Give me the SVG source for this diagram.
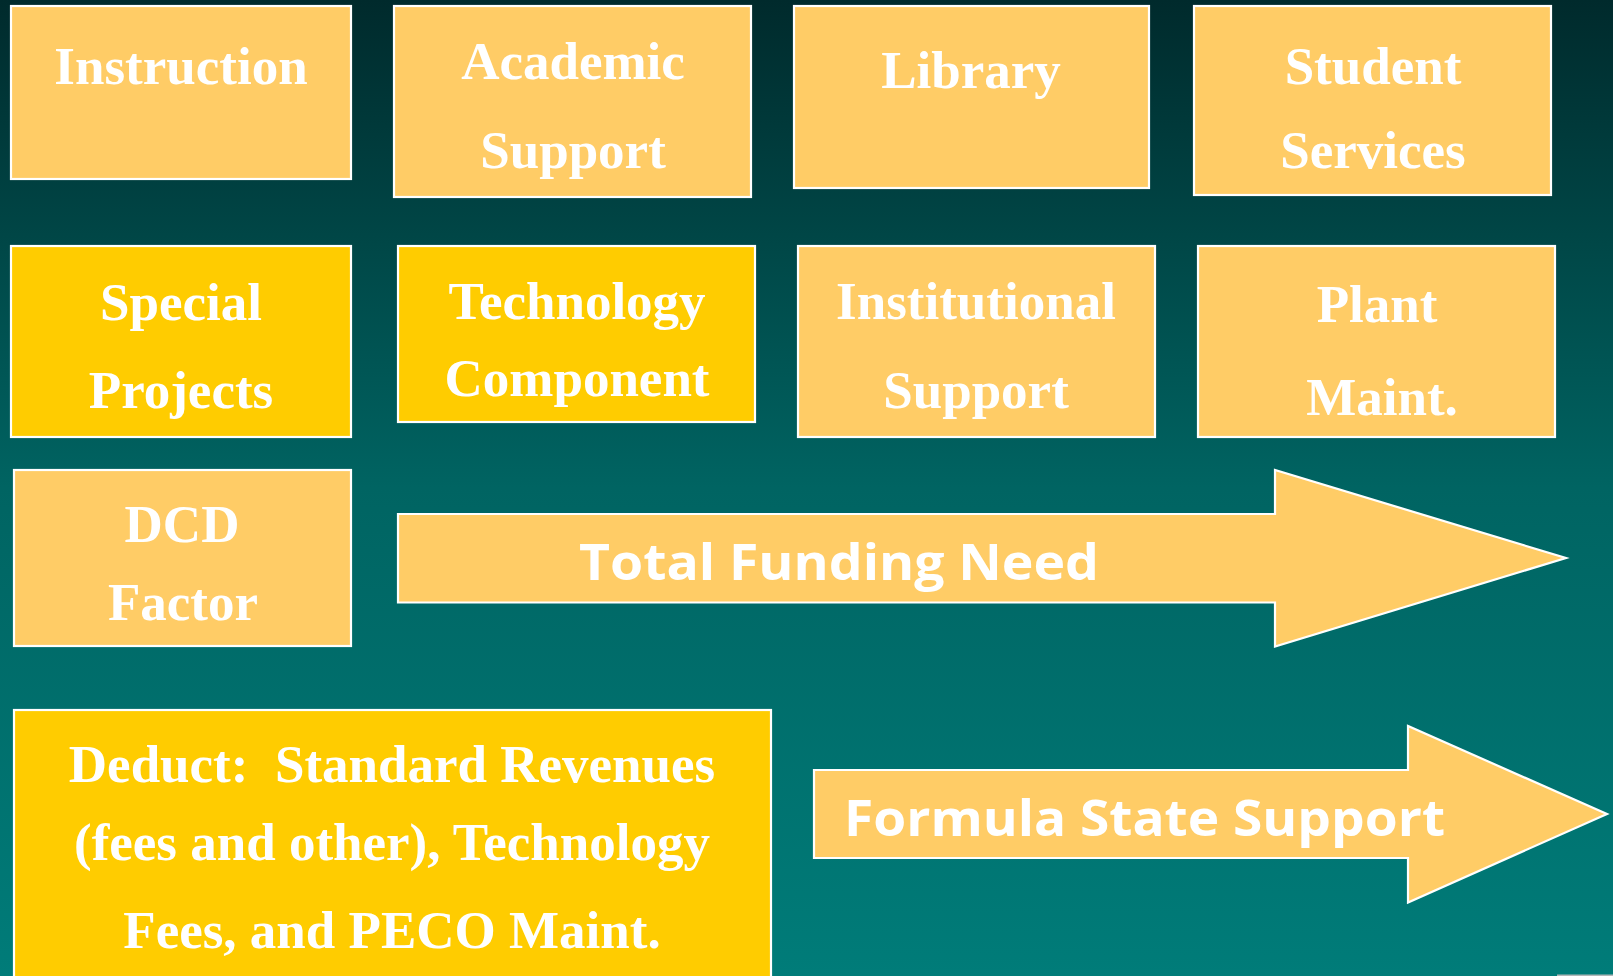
<svg xmlns="http://www.w3.org/2000/svg" width="1613" height="976" viewBox="0 0 1613 976">
<defs>
<linearGradient id="bg" x1="0" y1="0" x2="0" y2="1">
<stop offset="0" stop-color="#002a2c"/>
<stop offset="0.5" stop-color="#006462"/>
<stop offset="1" stop-color="#007c79"/>
</linearGradient>
<style>
.lt{fill:#ffcc66;stroke:#ffffff;stroke-width:2.2}
.gd{fill:#ffcc00;stroke:#ffffff;stroke-width:2.2}
.t{font-family:"Liberation Serif","Times New Roman",serif;font-weight:bold;font-size:53px;fill:#ffffff;text-anchor:middle;white-space:pre}
.a{font-family:"Open Sans","Liberation Sans",sans-serif;font-weight:bold;font-size:50px;fill:#ffffff}
</style>
</defs>
<rect x="0" y="0" width="1613" height="976" fill="url(#bg)"/>

<g id="instruction">
<rect class="lt" x="11" y="6" width="340" height="173"/>
<text class="t" x="181" y="84">Instruction</text>
</g>
<g id="academic-support">
<rect class="lt" x="394" y="6" width="357" height="191"/>
<text class="t" x="573" y="79">Academic</text>
<text class="t" x="573" y="168">Support</text>
</g>
<g id="library">
<rect class="lt" x="794" y="6" width="355" height="182"/>
<text class="t" x="971" y="88">Library</text>
</g>
<g id="student-services">
<rect class="lt" x="1194" y="6" width="357" height="189"/>
<text class="t" x="1373" y="84">Student</text>
<text class="t" x="1373" y="168">Services</text>
</g>

<g id="special-projects">
<rect class="gd" x="11" y="246" width="340" height="191"/>
<text class="t" x="181" y="320">Special</text>
<text class="t" x="181" y="408">Projects</text>
</g>
<g id="technology-component">
<rect class="gd" x="398" y="246" width="357" height="176"/>
<text class="t" x="577" y="319">Technology</text>
<text class="t" x="577" y="396">Component</text>
</g>
<g id="institutional-support">
<rect class="lt" x="798" y="246" width="357" height="191"/>
<text class="t" x="976" y="319">Institutional</text>
<text class="t" x="976" y="408">Support</text>
</g>
<g id="plant-maint">
<rect class="lt" x="1198" y="246" width="357" height="191"/>
<text class="t" x="1377" y="322">Plant</text>
<text class="t" x="1382" y="415">Maint.</text>
</g>

<g id="dcd-factor">
<rect class="lt" x="14" y="470" width="337" height="176"/>
<text class="t" x="182" y="542">DCD</text>
<text class="t" x="183" y="620">Factor</text>
</g>

<g id="deduct">
<rect class="gd" x="14" y="710" width="757" height="280"/>
<text class="t" x="392" y="782" xml:space="preserve">Deduct:  Standard Revenues</text>
<text class="t" x="392" y="860">(fees and other), Technology</text>
<text class="t" x="392" y="948">Fees, and PECO Maint.</text>
</g>

<g id="connectors">
<g id="total-funding-need">
<polygon class="lt" points="398,514 1275,514 1275,470 1566,558 1275,646.5 1275,602.5 398,602.5"/>
<text class="a" x="579" y="580" textLength="520" lengthAdjust="spacingAndGlyphs">Total Funding Need</text>
</g>
<g id="formula-state-support">
<polygon class="lt" points="814,770 1408,770 1408,726 1607,814 1408,902.5 1408,858 814,858"/>
<text class="a" x="844" y="836" textLength="601" lengthAdjust="spacingAndGlyphs">Formula State Support</text>
</g>
</g>
<rect x="1557" y="974.5" width="56" height="1.5" fill="#b0b8b8"/>
</svg>
